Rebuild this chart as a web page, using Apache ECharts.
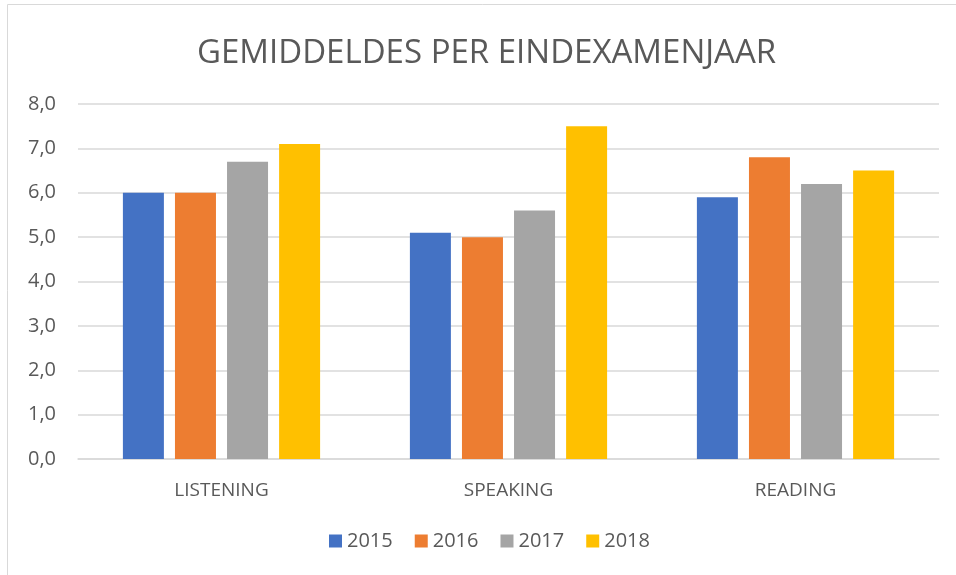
<!DOCTYPE html>
<html>
<head>
<meta charset="utf-8">
<script src="https://cdn.jsdelivr.net/npm/echarts@6/dist/echarts.min.js"></script>
<style>
  html, body { margin: 0; padding: 0; background: #fff; }
  #chart { width: 956px; height: 575px; }
</style>
</head>
<body>
<div id="chart"></div>
<script>
const categories = ['LISTENING', 'SPEAKING', 'READING'];
const years = ['2015', '2016', '2017', '2018'];
const values2015 = [6.0, 5.1, 5.9];
const values2016 = [6.0, 5.0, 6.8];
const values2017 = [6.7, 5.6, 6.2];
const values2018 = [7.1, 7.5, 6.5];
const colors = ['#4472C4', '#ED7D31', '#A5A5A5', '#FFC000'];

const font = '"Open Sans", "Noto Sans", sans-serif';
const textColor = '#595959';

const chart = echarts.init(document.getElementById('chart'));

const seriesData = [values2015, values2016, values2017, values2018];

chart.setOption({
  animation: false,
  color: colors,
  title: {
    text: 'GEMIDDELDES PER EINDEXAMENJAAR',
    left: 192,
    top: 32,
    textStyle: { fontFamily: font, fontSize: 33, fontWeight: 'normal', color: textColor }
  },
  graphic: [{
    type: 'rect',
    shape: { x: 7.5, y: 4.5, width: 960, height: 580 },
    style: { fill: 'none', stroke: '#d9d9d9', lineWidth: 1 },
    silent: true
  }],
  legend: {
    data: years,
    bottom: 19,
    left: 324,
    itemWidth: 13,
    itemHeight: 13,
    itemGap: 22,
    icon: 'rect',
    textStyle: { fontFamily: font, fontSize: 20, color: textColor }
  },
  grid: { left: 78, right: 17, top: 104, bottom: 116 },
  xAxis: {
    type: 'category',
    data: categories,
    axisLine: { lineStyle: { color: '#d9d9d9', width: 1.5 } },
    axisTick: { show: false },
    axisLabel: { fontFamily: font, fontSize: 19, color: textColor, margin: 22 }
  },
  yAxis: {
    type: 'value',
    min: 0,
    max: 8,
    interval: 1,
    axisLine: { show: false },
    axisTick: { show: false },
    splitLine: { lineStyle: { color: '#d9d9d9', width: 1.5 } },
    axisLabel: {
      fontFamily: font, fontSize: 20, color: textColor, margin: 22,
      formatter: v => v.toFixed(1).replace('.', ',')
    }
  },
  series: years.map((y, i) => ({
    name: y,
    type: 'bar',
    data: seriesData[i],
    barWidth: 41,
    barGap: '27%'
  }))
});
</script>
</body>
</html>
